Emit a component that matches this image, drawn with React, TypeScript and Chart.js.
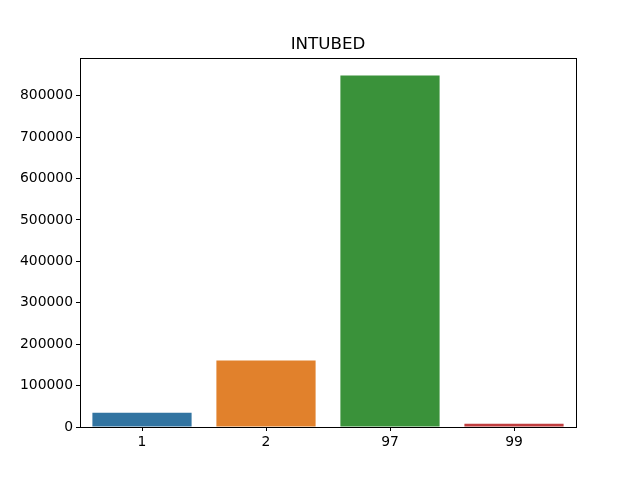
import React, { useEffect, useRef } from "react";
import { Chart, registerables } from "chart.js";

Chart.register(...registerables);

const categories = ["1", "2", "97", "99"];
const counts = [34500, 160500, 848500, 8000];
const barColors = ["#3274a1", "#e1812c", "#3a923a", "#c03d3e"];
const yTicks = [0, 100000, 200000, 300000, 400000, 500000, 600000, 700000, 800000];
const chartTitle = "INTUBED";

const framePlugin = {
  id: "frame",
  afterDraw(chart: any) {
    const { ctx, chartArea } = chart;
    ctx.save();
    ctx.strokeStyle = "#000";
    ctx.lineWidth = 1;
    ctx.strokeRect(
      Math.round(chartArea.left) + 0.5,
      Math.round(chartArea.top) + 0.5,
      Math.round(chartArea.right - chartArea.left),
      Math.round(chartArea.bottom - chartArea.top)
    );
    ctx.fillStyle = "#000";
    ctx.font = "16.7px 'DejaVu Sans'";
    ctx.textAlign = "center";
    ctx.textBaseline = "alphabetic";
    ctx.fillText(chartTitle, (chartArea.left + chartArea.right) / 2, chartArea.top - 9);
    ctx.restore();
  },
};

export default function App() {
  const ref = useRef<HTMLCanvasElement>(null);
  useEffect(() => {
    if (!ref.current) return;
    const chart = new Chart(ref.current, {
      type: "bar",
      data: {
        labels: categories,
        datasets: [
          {
            data: counts,
            backgroundColor: barColors,
            borderWidth: 0,
            categoryPercentage: 1,
            barPercentage: 0.8,
          },
        ],
      },
      options: {
        animation: false,
        responsive: false,
        devicePixelRatio: 1,
        layout: { padding: { left: 0, right: 64, top: 58, bottom: 0 } },
        plugins: { legend: { display: false }, title: { display: false }, tooltip: { enabled: false } },
        scales: {
          x: {
            type: "category",
            offset: true,
            grid: { display: true, drawOnChartArea: false, tickLength: 4, color: "#000", offset: false },
            border: { display: false },
            ticks: { color: "#000", font: { family: "'DejaVu Sans'", size: 13.9 }, padding: 3, maxRotation: 0 },
            afterFit: (s: any) => { s.height = 53; },
          },
          y: {
            min: 0,
            max: 891000,
            grid: { display: true, drawOnChartArea: false, tickLength: 4, color: "#000" },
            border: { display: false },
            afterBuildTicks: (s: any) => { s.ticks = yTicks.map((v) => ({ value: v })); },
            ticks: { color: "#000", font: { family: "'DejaVu Sans'", size: 13.9 }, padding: 3, callback: (v: any) => String(v) },
            afterFit: (s: any) => { s.width = 80; },
          },
        },
      },
      plugins: [framePlugin],
    });
    return () => chart.destroy();
  }, []);
  return (
    <div style={{ position: "fixed", left: 0, top: 0, width: 640, height: 480, background: "#fff" }}>
      <canvas ref={ref} width={640} height={480} />
    </div>
  );
}
